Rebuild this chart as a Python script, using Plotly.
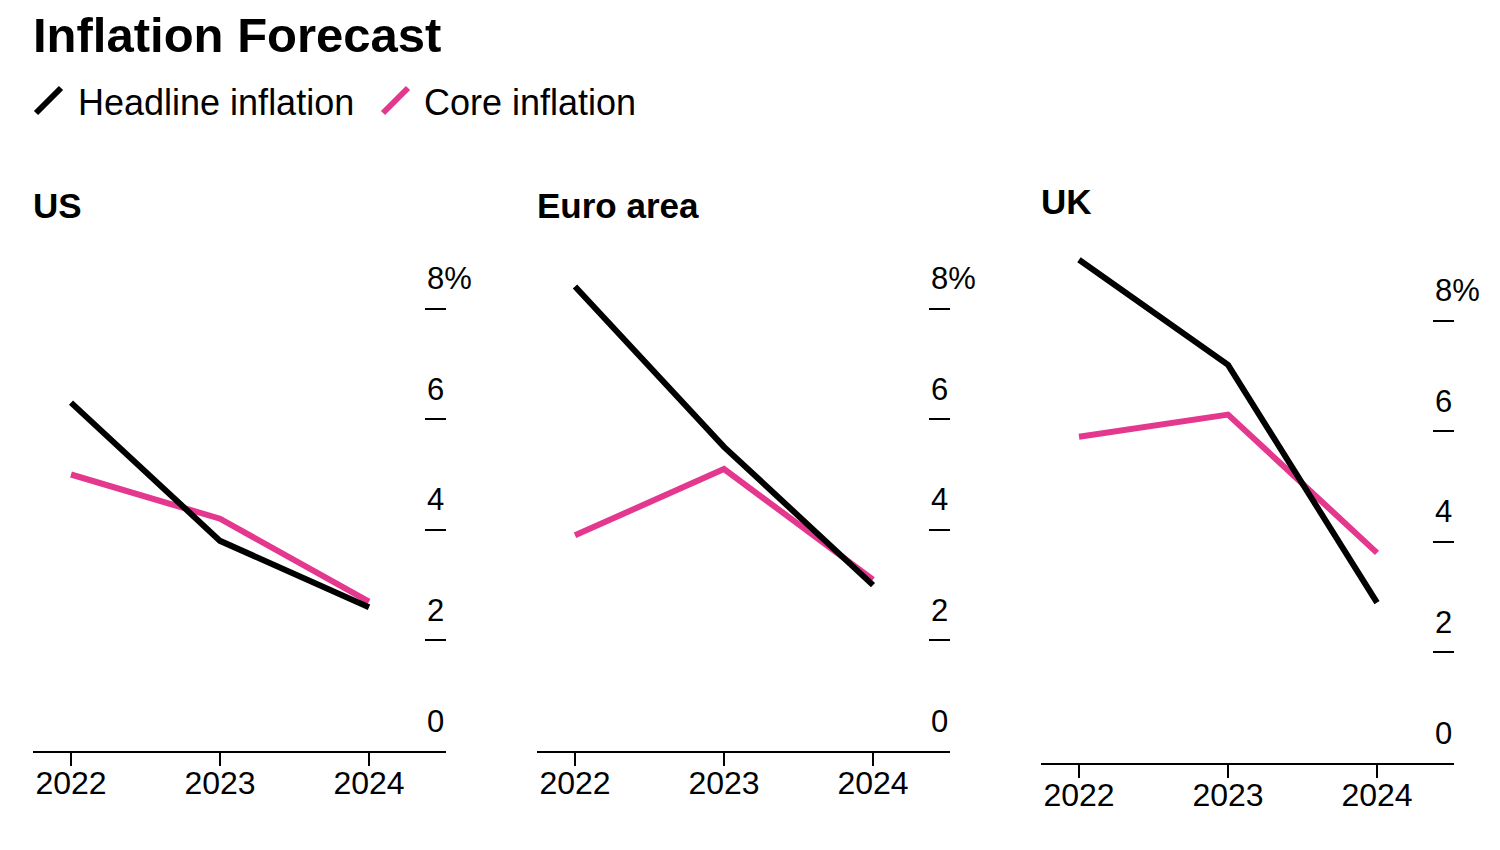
import plotly.graph_objects as go

# ---- data ----
years = [2022, 2023, 2024]
regions = ["US", "Euro area", "UK"]
headline = {
    "US": [6.3, 3.8, 2.6],
    "Euro area": [8.4, 5.5, 3.0],
    "UK": [9.1, 7.2, 2.9],
}
core = {
    "US": [5.0, 4.2, 2.7],
    "Euro area": [3.9, 5.1, 3.1],
    "UK": [5.9, 6.3, 3.8],
}
y_ticks = [0, 2, 4, 6, 8]
y_tick_labels = ["0", "2", "4", "6", "8%"]
x_tick_labels = ["2022", "2023", "2024"]

title = "Inflation Forecast"
legend_names = ["Headline inflation", "Core inflation"]

# ---- style ----
OFF = 8                      # page body margin
W, H = 1500 - OFF, 850 - OFF
FONT = "Liberation Sans, Arial, Helvetica, sans-serif"
BLACK = "#000000"
PINK = "#e4378e"
Y_MAX = 9.5
PX_PER_UNIT = 55.3

def px(x):
    return (x - OFF) / W

def py(y):
    return 1 - (y - OFF) / H

# panel placement (pixel left, right, baseline, title y)
panels = [(33, 446, 751, 205), (537, 950, 751, 205), (1041, 1454, 763, 201)]

fig = go.Figure()
annotations = []

for i, reg in enumerate(regions):
    n = "" if i == 0 else str(i + 1)
    xa, ya = "x" + n, "y" + n
    left, right, base, ty = panels[i]
    top = base - Y_MAX * PX_PER_UNIT
    fig.add_trace(go.Scatter(x=years, y=core[reg], mode="lines",
                             line=dict(color=PINK, width=6),
                             xaxis=xa, yaxis=ya, showlegend=False,
                             name=legend_names[1]))
    fig.add_trace(go.Scatter(x=years, y=headline[reg], mode="lines",
                             line=dict(color=BLACK, width=6),
                             xaxis=xa, yaxis=ya, showlegend=False,
                             name=legend_names[0]))
    fig.layout["xaxis" + n] = dict(
        domain=[px(left), px(right)],
        range=[2022 - (71 - 33) / 149.0, 2022 + (right - left - 38) / 149.0],
        anchor=ya,
        tickvals=years, ticktext=x_tick_labels,
        ticks="", ticklabelstandoff=3,
        minor=dict(tickvals=years, ticks="outside", ticklen=13,
                   tickwidth=2, tickcolor=BLACK, showgrid=False),
        showline=True, linewidth=2, linecolor=BLACK,
        showgrid=False, zeroline=False,
        tickfont=dict(family=FONT, size=32, color=BLACK),
        fixedrange=True,
    )
    fig.layout["yaxis" + n] = dict(
        domain=[py(base), py(top)],
        range=[0, Y_MAX],
        anchor=xa, side="right",
        tickvals=[v for v in y_ticks if v > 0],
        ticks="inside", ticklen=21, tickwidth=2, tickcolor=BLACK,
        showticklabels=False, showline=False, showgrid=False, zeroline=False,
        fixedrange=True,
    )
    for v, lab in zip(y_ticks, y_tick_labels):
        annotations.append(dict(
            x=1, xref=xa + " domain", y=v, yref=ya,
            text=lab, showarrow=False, xanchor="left", yanchor="middle",
            xshift=-21, yshift=30,
            font=dict(family=FONT, size=31, color=BLACK),
        ))
    annotations.append(dict(
        x=px(left - 2), xref="paper", y=py(ty), yref="paper",
        text="<b>%s</b>" % reg, showarrow=False, xanchor="left", yanchor="middle",
        font=dict(family=FONT, size=35, color=BLACK),
    ))

annotations.append(dict(
    x=px(31), xref="paper", y=py(35), yref="paper",
    text="<b>%s</b>" % title, showarrow=False, xanchor="left", yanchor="middle",
    font=dict(family=FONT, size=49, color=BLACK),
))
annotations.append(dict(
    x=px(76), xref="paper", y=py(102), yref="paper",
    text=legend_names[0], showarrow=False, xanchor="left", yanchor="middle",
    font=dict(family=FONT, size=36, color=BLACK),
))
annotations.append(dict(
    x=px(422), xref="paper", y=py(102), yref="paper",
    text=legend_names[1], showarrow=False, xanchor="left", yanchor="middle",
    font=dict(family=FONT, size=36, color=BLACK),
))

shapes = [
    dict(type="line", xref="paper", yref="paper",
         x0=px(36), y0=py(113), x1=px(61), y1=py(88),
         line=dict(color=BLACK, width=6)),
    dict(type="line", xref="paper", yref="paper",
         x0=px(383), y0=py(113), x1=px(408), y1=py(88),
         line=dict(color=PINK, width=6)),
]

fig.update_layout(
    width=W, height=H,
    margin=dict(l=0, r=0, t=0, b=0),
    paper_bgcolor="white", plot_bgcolor="white",
    annotations=annotations, shapes=shapes,
    showlegend=False,
    font=dict(family=FONT, color=BLACK),
)

fig.write_html("out.html")
